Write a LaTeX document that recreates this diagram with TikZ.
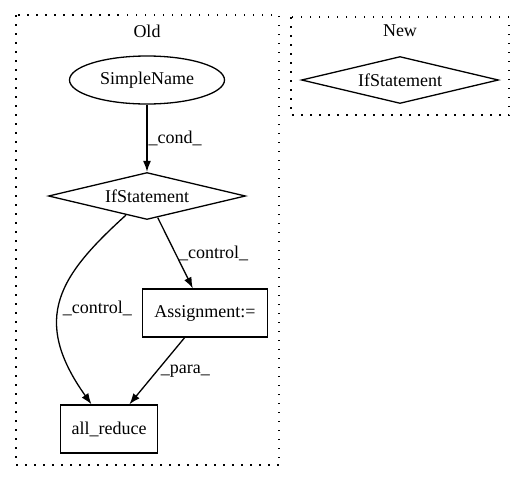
\documentclass[tikz,border=0pt]{standalone}
\usepackage{fontspec}
\setmainfont{Liberation Serif}
\usetikzlibrary{shapes.geometric,arrows.meta}
\tikzstyle{block} = [rectangle, draw, line width=1.3pt, minimum height=48pt, inner sep=0pt]
\tikzstyle{decision} = [diamond, draw, line width=1.3pt, aspect=4.2, minimum width=197pt, minimum height=47pt, inner sep=0pt]
\tikzstyle{ident} = [ellipse, draw, line width=1.3pt, minimum width=155pt, minimum height=48pt, inner sep=0pt]
\tikzstyle{line} = [draw, line width=1.3pt, -{Latex[length=11pt,width=8pt]}]
\tikzstyle{cluster} = [draw, line width=1.4pt, dash pattern=on 1.5pt off 7.5pt]

\begin{document}
\begin{tikzpicture}[x=1pt, y=-1pt, node distance=116pt, auto, font=\fontsize{18pt}{20pt}\selectfont]
    \useasboundingbox (0,0) rectangle (525,480);
    % Clusters
    \draw [cluster] (16,15) rectangle (279,465);
    \draw [cluster] (291,17) rectangle (509,115);
    \node (old) at (147,31) {Old};
    \node (new) at (400,31) {New};
    % Place nodes
    \node [ident] (simplename) at (147,80) {SimpleName};
    \node [decision, below of=simplename] (ifold) {IfStatement};
    \node [block, minimum width=125pt, below of=ifold, node distance=117pt, xshift=58pt] (assign) {Assignment:=};
    \node [block, minimum width=97pt, below of=assign, xshift=-96pt] (allreduce) {all\_reduce};
    \node [decision, right of=simplename, node distance=253pt] (ifnew) {IfStatement};
    % Draw edges
    \path [line] (simplename) -- node [right, inner sep=1pt] {\_cond\_} (ifold);
    \path [line] (ifold) -- node [right] {\_control\_} (assign);
    \path [line] (assign) -- node [right] {\_para\_} (allreduce);
    \path [line] (ifold) .. controls (60,275) and (30,318) .. node [pos=0.55, right] {\_control\_} (allreduce);
\end{tikzpicture}
\end{document}
